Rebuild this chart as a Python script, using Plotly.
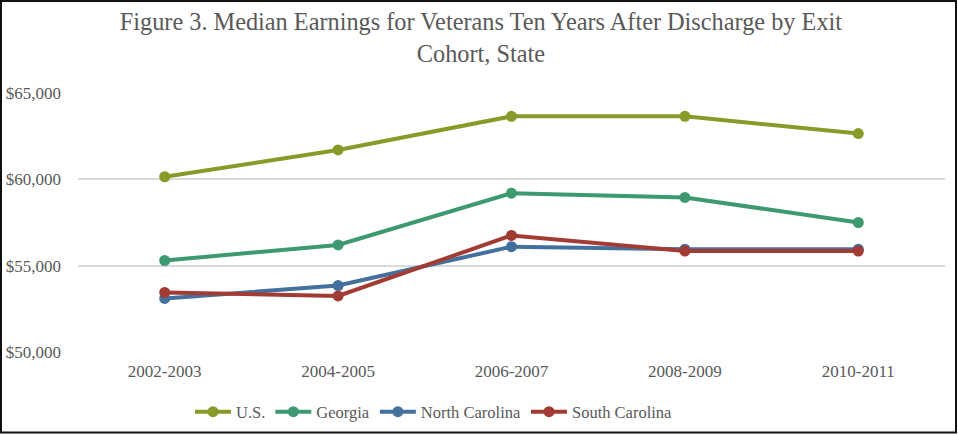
import plotly.graph_objects as go

cohorts = ["2002-2003", "2004-2005", "2006-2007", "2008-2009", "2010-2011"]
us = [60150, 61700, 63650, 63650, 62650]
georgia = [55300, 56200, 59200, 58950, 57500]
north_carolina = [53100, 53850, 56100, 55950, 55950]
south_carolina = [53450, 53250, 56750, 55850, 55850]

series = [
    ("U.S.", us, "#879B29"),
    ("Georgia", georgia, "#3D9970"),
    ("North Carolina", north_carolina, "#44709E"),
    ("South Carolina", south_carolina, "#A33B35"),
]

W, H = 958, 434
ML, MR, MT, MB = 78, 13, 93, 82
PW, PH = W - ML - MR, H - MT - MB

fig = go.Figure()
for name, vals, col in series:
    fig.add_trace(go.Scatter(
        x=cohorts, y=vals, name=name, mode="lines+markers",
        line=dict(color=col, width=4),
        marker=dict(color=col, size=11),
    ))

font_fam = "'Liberation Serif', 'Times New Roman', serif"
fig.update_layout(
    width=W, height=H,
    margin=dict(l=ML, r=MR, t=MT, b=MB, autoexpand=False),
    paper_bgcolor="white", plot_bgcolor="white",
    font=dict(family=font_fam, color="#595959", size=16),
    title=dict(
        text="Figure 3. Median Earnings for Veterans Ten Years After Discharge by Exit<br>Cohort, State",
        x=0.502, xanchor="center", xref="container", y=1 - 30 / H, yanchor="middle",
        font=dict(family=font_fam, size=24.3, color="#595959"),
    ),
    xaxis=dict(
        type="category", showgrid=False, zeroline=False, showline=False,
        range=[-0.5, 4.5], ticks="", ticklabelstandoff=7,
        tickfont=dict(family=font_fam, size=17, color="#595959"),
    ),
    yaxis=dict(
        range=[50000, 65000], tickvals=[50000, 55000, 60000, 65000],
        ticktext=["$50,000", "$55,000", "$60,000", "$65,000"],
        showgrid=True, gridcolor="#D9D9D9", gridwidth=1.5, zeroline=False,
        showline=False, ticks="", ticklabelstandoff=16,
        tickfont=dict(family=font_fam, size=17, color="#595959"),
    ),
    legend=dict(
        orientation="h", x=(190 - ML) / PW, xanchor="left",
        yref="container", y=1 - 412 / H, yanchor="middle",
        font=dict(family=font_fam, size=16.5, color="#595959"),
        itemwidth=36, tracegroupgap=0, bgcolor="rgba(0,0,0,0)",
    ),
    showlegend=True,
)

fig.add_shape(
    type="rect", xref="paper", yref="paper",
    x0=-(ML - 1) / PW, x1=1 + (MR - 2) / PW,
    y0=-(MB - 1.5) / PH, y1=1 + (MT - 1) / PH,
    line=dict(color="#111111", width=2), fillcolor="rgba(0,0,0,0)", layer="above",
)

fig.write_html("out.html")
